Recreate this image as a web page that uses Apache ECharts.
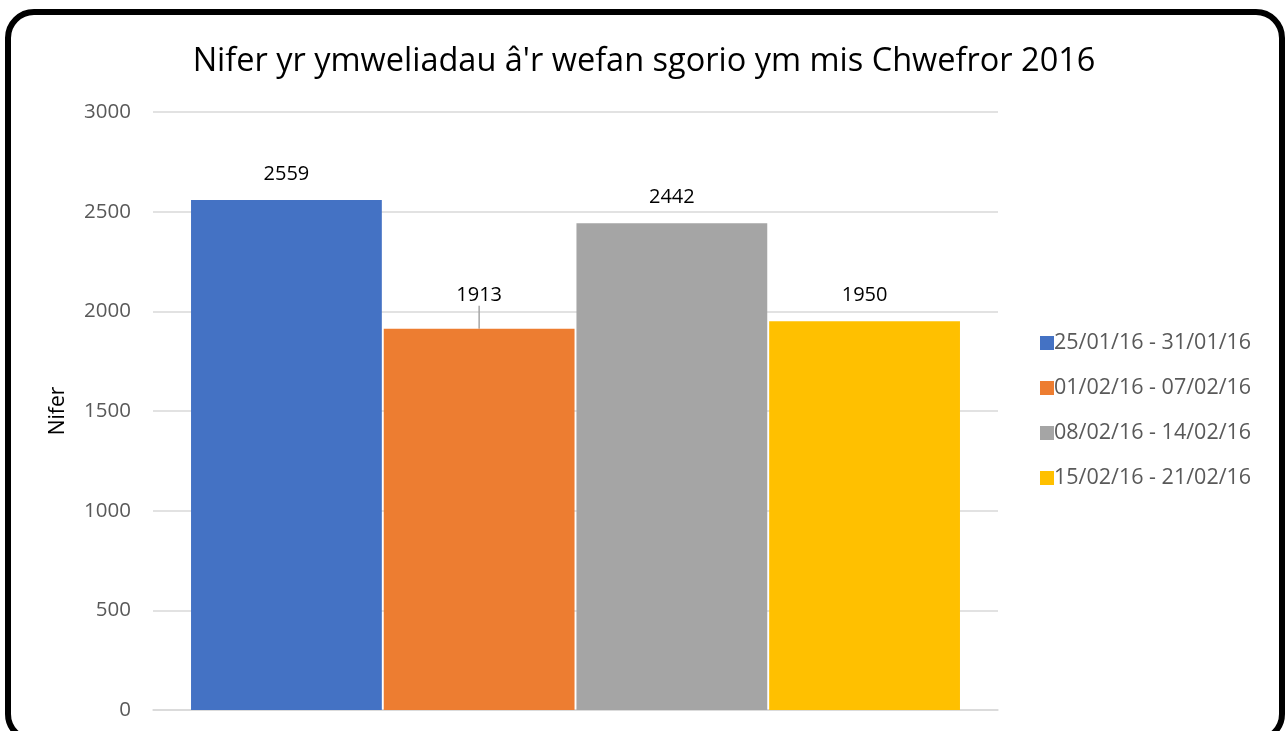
<!DOCTYPE html>
<html><head><meta charset="utf-8">
<script src="https://cdn.jsdelivr.net/npm/echarts@6/dist/echarts.min.js"></script>
<style>html,body{margin:0;padding:0;background:#fff;}#c{width:1288px;height:731px;}</style>
</head><body><div id="c"></div>
<script>
const title = "Nifer yr ymweliadau â'r wefan sgorio ym mis Chwefror 2016";
const categories = [""];
const seriesNames = ["25/01/16 - 31/01/16", "01/02/16 - 07/02/16", "08/02/16 - 14/02/16", "15/02/16 - 21/02/16"];
const seriesValues = [2559, 1913, 2442, 1950];
const colors = ["#4472C4", "#ED7D31", "#A5A5A5", "#FFC000"];
const yName = "Nifer";

const chart = echarts.init(document.getElementById('c'), null, {renderer: 'canvas'});
const series = seriesNames.map((n, i) => ({
  name: n,
  type: 'bar',
  data: [seriesValues[i]],
  barGap: '1%',
  barCategoryGap: '9%',
  itemStyle: {color: colors[i]},
  label: {show: true, position: 'top', distance: i === 1 ? 5 : 16, color: '#000', fontSize: 20, fontFamily: 'Open Sans'},
  labelLayout: i === 1 ? {dy: -18} : undefined,
  labelLine: i === 1 ? {show: true, lineStyle: {color: '#a6a6a6', width: 1.5}} : undefined
}));
chart.setOption({
  animation: false,
  title: {text: title, left: 'center', top: 40, textStyle: {fontFamily: 'Open Sans', fontWeight: 'normal', fontSize: 32.5, color: '#000'}},
  grid: {left: 153, right: 290, top: 112, bottom: 21, containLabel: false},
  legend: {orient: 'vertical', left: 1035, top: 327, itemWidth: 14, itemHeight: 14, itemGap: 23,
    icon: 'rect', textStyle: {fontFamily: 'Open Sans', fontSize: 21.5, color: '#595959', padding: [0,0,0,-5]}},
  xAxis: {type: 'category', data: categories, axisTick: {show: false}, axisLabel: {show: false},
    axisLine: {lineStyle: {color: '#d9d9d9', width: 1.5}}},
  yAxis: {type: 'value', min: 0, max: 3000, interval: 500, name: yName, nameLocation: 'middle', nameGap: 84,
    nameTextStyle: {fontFamily: 'Open Sans', fontSize: 21, color: '#000'},
    axisLabel: {fontFamily: 'Open Sans', fontSize: 20.5, color: '#595959', margin: 22, formatter: v => String(v)},
    axisLine: {show: false}, axisTick: {show: false},
    splitLine: {lineStyle: {color: '#d9d9d9', width: 1.5}}},
  series: series,
  graphic: [{type: 'rect', shape: {x: 8, y: 12, width: 1274, height: 728, r: 26}, style: {fill: 'none', stroke: '#000', lineWidth: 6}, z: 100}]
});
</script></body></html>
